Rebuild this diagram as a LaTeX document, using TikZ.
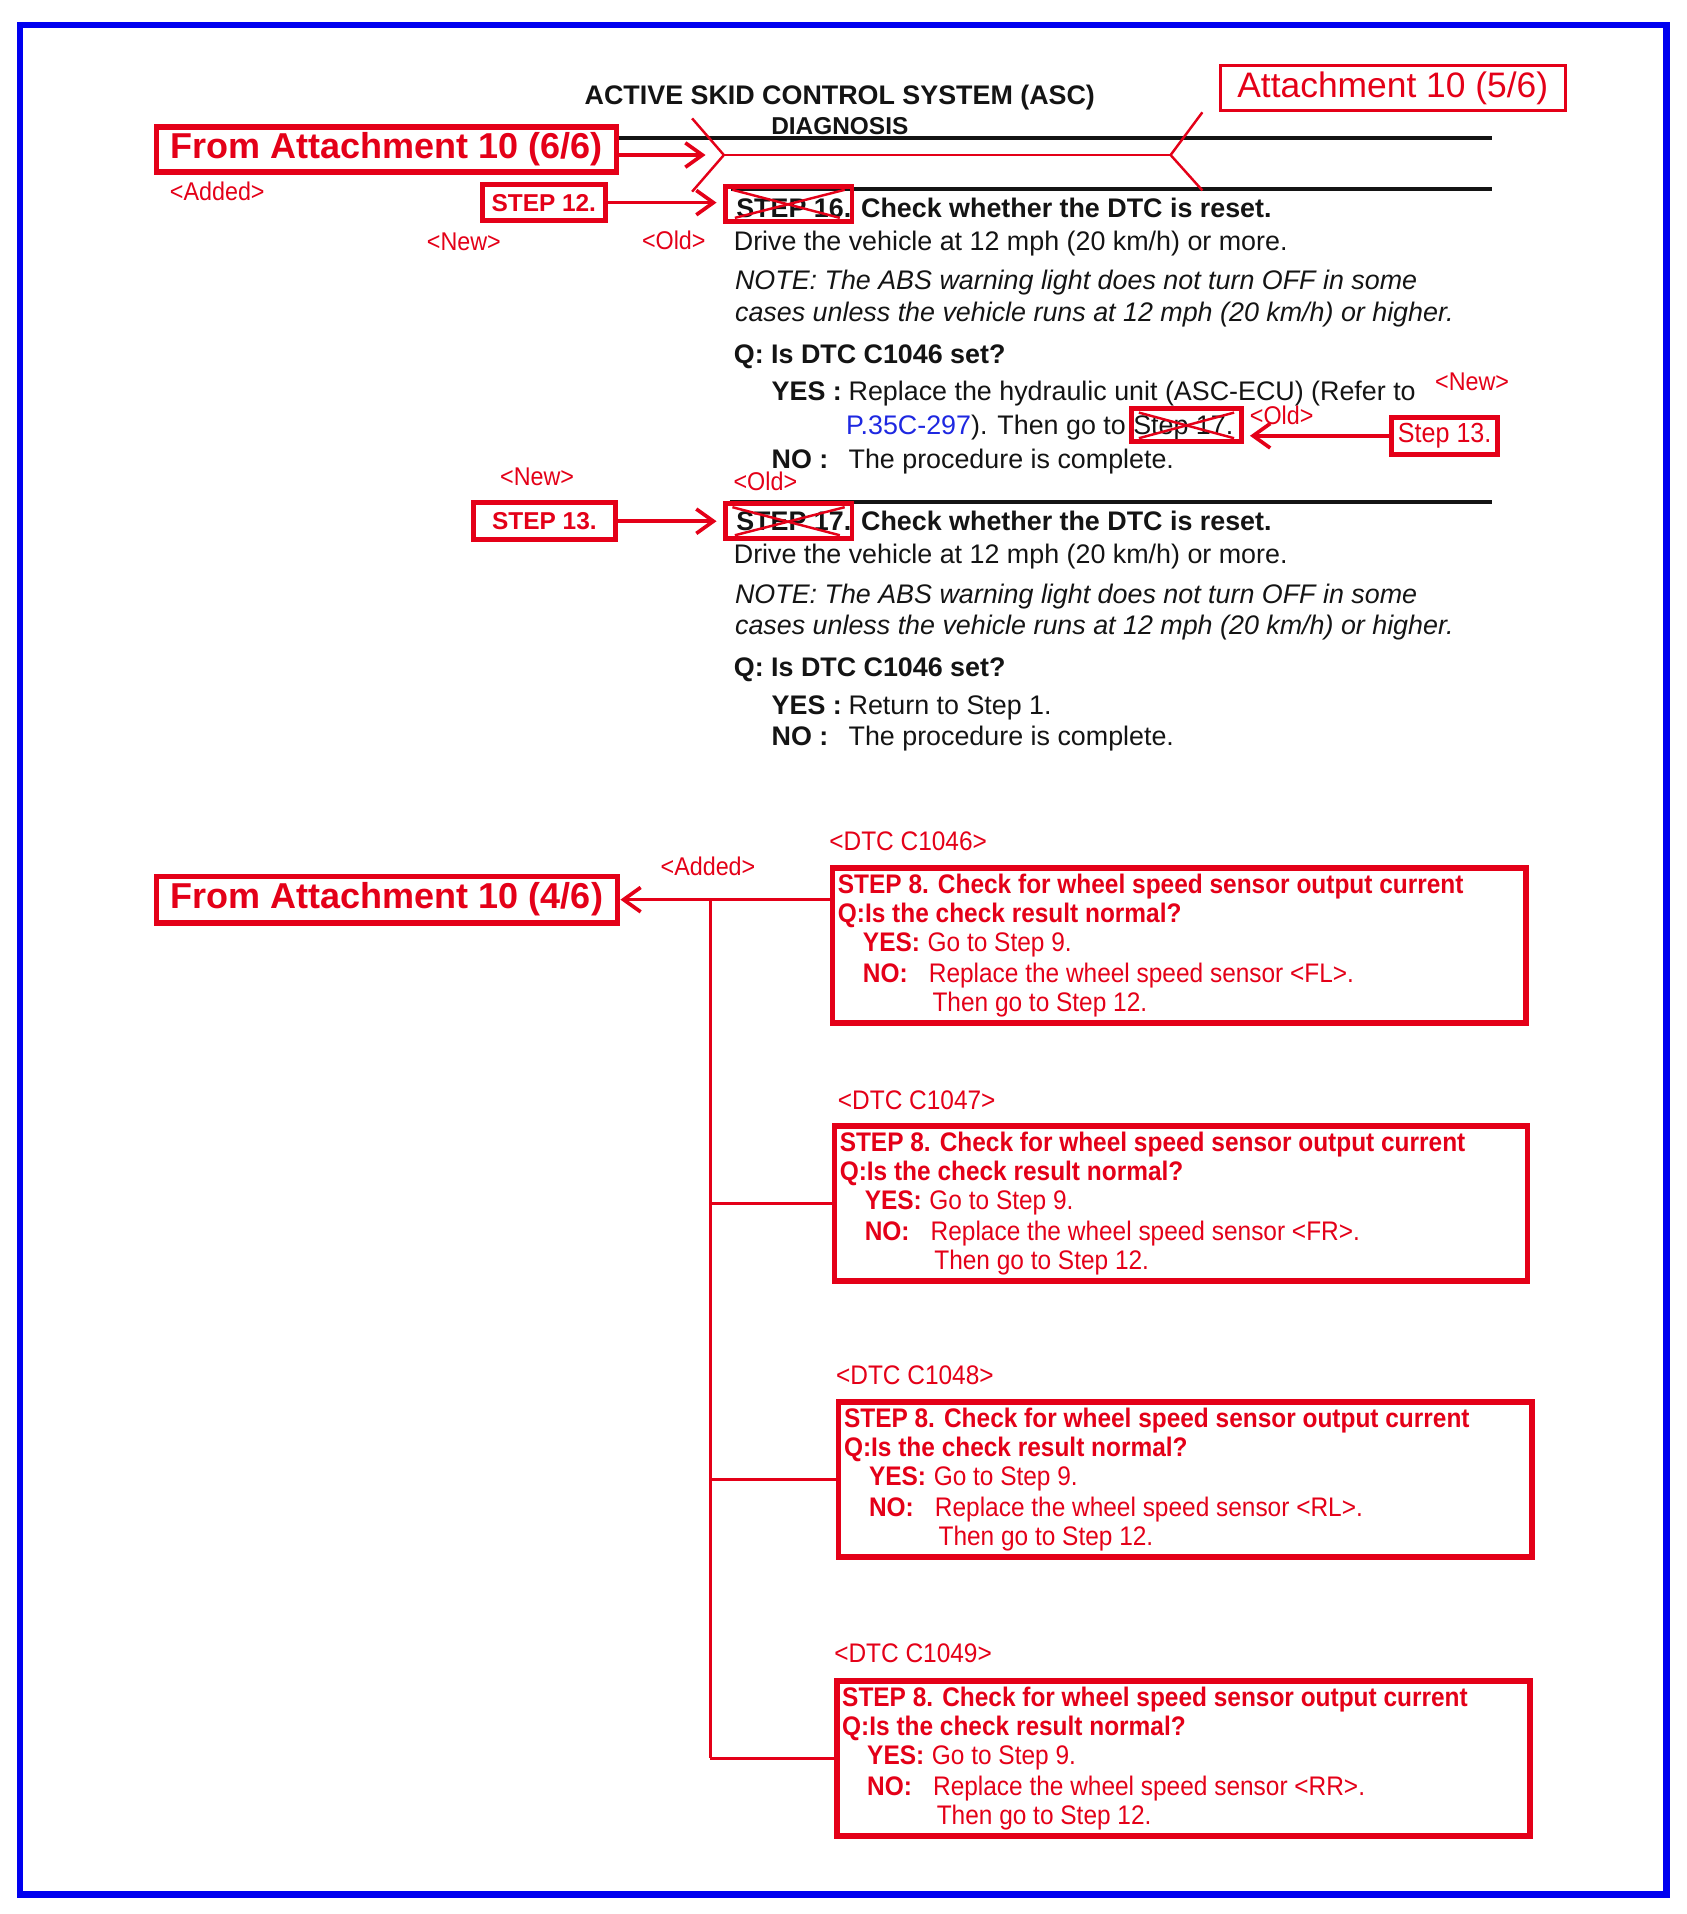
\documentclass[tikz,border=0pt]{standalone}
\usepackage{fontspec}
\setmainfont{Liberation Sans}
\newfontfamily\nar[FakeStretch=0.91]{Liberation Sans}
\usetikzlibrary{arrows.meta,calc}
\definecolor{rd}{RGB}{228,0,24}
\definecolor{bl}{RGB}{0,0,240}
\definecolor{lk}{RGB}{30,40,225}
\definecolor{ink}{RGB}{20,20,20}
\tikzset{
 redbox/.style={draw=rd, line width=4.5pt, inner sep=0pt, text=rd},
 xbox/.style={draw=rd, line width=4pt, inner sep=0pt},
 xline/.style={draw=rd, line width=2pt},
 arr/.style={draw=rd, line width=3pt, -{Straight Barb[length=14pt,width=20pt]}},
 bt/.style={anchor=base west, inner sep=0pt, text=ink, font={\fontsize{22}{26}\selectfont}},
 bb/.style={bt, font={\bfseries\fontsize{22}{26}\selectfont}},
 bi/.style={bt, font={\itshape\fontsize{22}{26}\selectfont}},
 lab/.style={inner sep=0pt, text=rd, font={\nar\fontsize{21}{24}\selectfont}},
 rtn/.style={anchor=base west, inner sep=0pt, text=rd, font={\nar\fontsize{22}{26}\selectfont}},
 rtb/.style={rtn, font={\nar\bfseries\fontsize{22}{26}\selectfont}},
 rule/.style={draw=ink, line width=3pt},
 conn/.style={draw=rd, line width=2.5pt},
 dtc/.style={redbox, line width=4.5pt, minimum width=568pt, minimum height=127pt},
}
\newcommand\dtcbox[2]{%
 \node[rtb] (#1a) at ($(#1.north west)+(6.5,23)$) {STEP 8. Check for wheel speed sensor output current};
 \node[rtb] (#1b) at ($(#1.north west)+(6.5,47)$) {Q:Is the check result normal?};
 \node[rtb] (#1c) at ($(#1.north west)+(27,71)$) {YES:};
 \node[rtn] (#1d) at ($(#1.north west)+(80,71)$) {Go to Step 9.};
 \node[rtb] (#1e) at ($(#1.north west)+(27,96)$) {NO:};
 \node[rtn] (#1f) at ($(#1.north west)+(81,96)$) {Replace the wheel speed sensor <#2>.};
 \node[rtn] (#1g) at ($(#1.north west)+(84,120)$) {Then go to Step 12.};
}
\begin{document}
\begin{tikzpicture}[x=1pt,y=-1pt]
\useasboundingbox (0,0) rectangle (1382,1568);
\fill[white] (0,0) rectangle (1382,1568);
\draw[bl, line width=5.5pt] (16.5,20.5) rectangle (1365,1552);

% title
\node[anchor=base, inner sep=0pt, text=ink, font={\bfseries\fontsize{22}{26}\selectfont}] (title) at (688,86) {ACTIVE SKID CONTROL SYSTEM (ASC)};
\node[anchor=base, inner sep=0pt, text=ink, font={\bfseries\fontsize{20}{24}\selectfont}] (diag) at (688,110) {DIAGNOSIS};
\node[draw=rd, line width=2.5pt, inner sep=0pt, minimum width=283pt, minimum height=37pt, text=rd, font={\fontsize{29}{32}\selectfont}] (att56) at (1141,72) {Attachment 10 (5/6)};

% rules
\draw[rule] (507,113) -- (1222,113);
\draw[rule] (599,155) -- (1222,155);
\draw[rule] (598,411) -- (1222,411);

% insertion marker
\coordinate (mk) at (593,127);
\coordinate (mkr) at (959,127);
\draw[xline] ($(mk)+(-26,-30)$) -- (mk) -- ($(mk)+(-26,30)$);
\draw[xline] (mk) -- (mkr);
\draw[xline] ($(mkr)+(26,-35)$) -- (mkr) -- ($(mkr)+(26,29)$);

% from 6/6
\node[redbox, minimum width=377pt, minimum height=37pt, font={\bfseries\fontsize{29.5}{32}\selectfont}] (from66) at (316.5,122.5) {From Attachment 10 (6/6)};
\draw[arr] (from66.east |- mk) -- ($(mk)+(-15,0)$);
\node[lab] (added1) at (178,157) {<Added>};

% step 12 -> step 16
\node[redbox, line width=4pt, minimum width=101pt, minimum height=29pt, font={\bfseries\fontsize{20}{24}\selectfont}] (step12) at (445.5,166) {STEP 12.};
\node[lab] (new1) at (380,198) {<New>};
\node[lab] (old1) at (552,197) {<Old>};

\node[bb] (s16t) at (603,178) {STEP 16. Check whether the DTC is reset.};
\node[xbox, minimum width=104pt, minimum height=29pt] (s16x) at (646,167) {};
\draw[xline] ($(s16x.north west)+(8,5)$) -- ($(s16x.south east)+(-12,-5)$);
\draw[xline] ($(s16x.south west)+(10,-5)$) -- ($(s16x.north east)+(-8,5)$);
\draw[arr, shorten >=5pt] (step12.east) -- (step12.east -| s16x.west);

\node[bt] (s16a) at (601,205) {Drive the vehicle at 12 mph (20 km/h) or more.};
\node[bi] (s16b) at (602,237) {NOTE: The ABS warning light does not turn OFF in some};
\node[bi] (s16c) at (602,263) {cases unless the vehicle runs at 12 mph (20 km/h) or higher.};
\node[bb] (s16d) at (601,298) {Q: Is DTC C1046 set?};
\node[bb] (s16e) at (632,328) {YES :};
\node[bt] (s16f) at (695,328) {Replace the hydraulic unit (ASC-ECU) (Refer to};
\node[bt] (s16g) at (693,356) {\textcolor{lk}{P.35C-297}). Then go to Step 17.};
\node[bb] (s16h) at (632,384) {NO :};
\node[bt] (s16i) at (695,384) {The procedure is complete.};

\node[lab] (new2) at (1206,313) {<New>};
\node[lab] (old2) at (1050,340) {<Old>};
\node[xbox, minimum width=90pt, minimum height=27pt] (s17ref) at (972,348.5) {};
\draw[xline] ($(s17ref.north west)+(8,5)$) -- ($(s17ref.south east)+(-8,-5)$);
\draw[xline] ($(s17ref.south west)+(8,-5)$) -- ($(s17ref.north east)+(-8,5)$);
\node[redbox, line width=4pt, minimum width=87pt, minimum height=30pt, font={\nar\fontsize{22.6}{26}\selectfont}] (step13b) at (1183.5,357) {Step 13.};
\draw[arr, shorten >=5pt] (step13b.west) -- (step13b.west -| s17ref.east);

% step 13 -> step 17
\node[lab] (new3) at (440,391) {<New>};
\node[lab] (old3) at (627,394) {<Old>};
\node[redbox, line width=4pt, minimum width=116pt, minimum height=30pt, font={\bfseries\fontsize{20}{24}\selectfont}] (step13) at (446,427) {STEP 13.\hspace{26pt}};
\node[bb] (s17t) at (603,435) {STEP 17. Check whether the DTC is reset.};
\node[xbox, minimum width=104pt, minimum height=29pt] (s17x) at (646,427) {};
\draw[xline] ($(s17x.north west)+(8,5)$) -- ($(s17x.south east)+(-12,-5)$);
\draw[xline] ($(s17x.south west)+(10,-5)$) -- ($(s17x.north east)+(-8,5)$);
\draw[arr, shorten >=5pt] (step13.east) -- (step13.east -| s17x.west);

\node[bt] (s17a) at (601,462) {Drive the vehicle at 12 mph (20 km/h) or more.};
\node[bi] (s17b) at (602,494) {NOTE: The ABS warning light does not turn OFF in some};
\node[bi] (s17c) at (602,520) {cases unless the vehicle runs at 12 mph (20 km/h) or higher.};
\node[bb] (s17d) at (601,554) {Q: Is DTC C1046 set?};
\node[bb] (s17e) at (632,585) {YES :};
\node[bt] (s17f) at (695,585) {Return to Step 1.};
\node[bb] (s17h) at (632,611) {NO :};
\node[bt] (s17i) at (695,611) {The procedure is complete.};

% lower part
\node[redbox, minimum width=378pt, minimum height=38pt, font={\bfseries\fontsize{29.5}{32}\selectfont}] (from46) at (317,737) {From Attachment 10 (4/6)};
\node[lab] (added2) at (580,710) {<Added>};

\node[dtc] (b1) at (966,774.5) {};
\node[dtc] (b2) at (967.5,986) {};
\node[dtc] (b3) at (971,1212) {};
\node[dtc] (b4) at (969.5,1440.5) {};
\node[lab, font={\nar\fontsize{22}{26}\selectfont}] (d46) at (744,689) {<DTC C1046>};
\node[lab, font={\nar\fontsize{22}{26}\selectfont}] (d47) at (751,901) {<DTC C1047>};
\node[lab, font={\nar\fontsize{22}{26}\selectfont}] (d48) at (749.5,1127) {<DTC C1048>};
\node[lab, font={\nar\fontsize{22}{26}\selectfont}] (d49) at (748,1354) {<DTC C1049>};
\dtcbox{b1}{FL}
\dtcbox{b2}{FR}
\dtcbox{b3}{RL}
\dtcbox{b4}{RR}

\coordinate (jn) at (582,737);
\draw[arr] (b1.west |- from46.east) -- (from46.east);
\draw[conn, line width=2pt] (jn) -- (jn |- b4.west);
\draw[conn] (jn |- b2.west) -- (b2.west);
\draw[conn] (jn |- b3.west) -- (b3.west);
\draw[conn] (jn |- b4.west) -- (b4.west);
\end{tikzpicture}
\end{document}
